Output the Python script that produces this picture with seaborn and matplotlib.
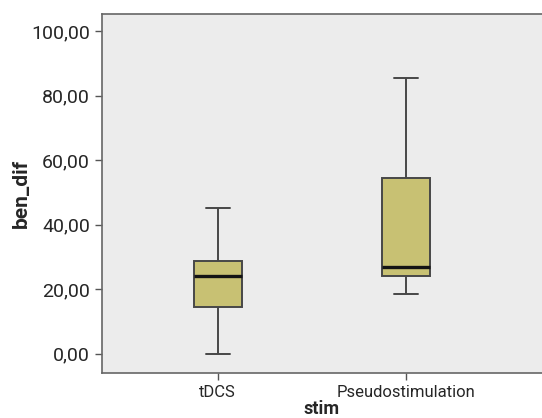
import pandas as pd
import matplotlib.pyplot as plt
import seaborn as sns

# values (min, q1, median, q3, max per group)
groups = ['tDCS', 'Pseudostimulation']
tdcs_vals = [0.0, 14.6, 24.1, 28.8, 45.3]
pseudo_vals = [18.4, 24.1, 26.8, 54.6, 85.6]
y_ticks = [0, 20, 40, 60, 80, 100]
y_tick_labels = ['0,00', '20,00', '40,00', '60,00', '80,00', '100,00']

df = pd.DataFrame({
    'stim': [groups[0]] * len(tdcs_vals) + [groups[1]] * len(pseudo_vals),
    'ben_dif': tdcs_vals + pseudo_vals,
})

sns.set_style('white')
plt.rcParams['font.family'] = ['Roboto', 'DejaVu Sans']

fig = plt.figure(figsize=(5.42, 4.18), dpi=100)
ax = fig.add_axes([0.188, 0.108, 0.812, 0.8585])
ax.set_facecolor('#ececec')

sns.boxplot(x='stim', y='ben_dif', data=df, order=groups, ax=ax,
            color='#c8c173', saturation=1, width=0.255, whis=(0, 100),
            linecolor='#474747', linewidth=1.4,
            medianprops={'color': '#141414', 'linewidth': 2.4})

ax.set_ylim(-5.9, 105.3)
ax.set_xlim(-0.615, 1.72)
ax.set_yticks(y_ticks)
ax.set_yticklabels(y_tick_labels, fontsize=14)
ax.tick_params(axis='x', labelsize=12, pad=4)
ax.tick_params(axis='both', direction='out', length=5, width=1, color='#555555', left=True, bottom=True)

ax.set_xlabel('stim', fontsize=13, fontweight='bold', labelpad=0)
ax.set_ylabel('ben_dif', fontsize=15, fontweight='bold', labelpad=0)

for side in ['left', 'bottom', 'top']:
    ax.spines[side].set_color('#666666')
    ax.spines[side].set_linewidth(1.2)
ax.spines['right'].set_visible(False)

plt.savefig('out.png', dpi=100)
